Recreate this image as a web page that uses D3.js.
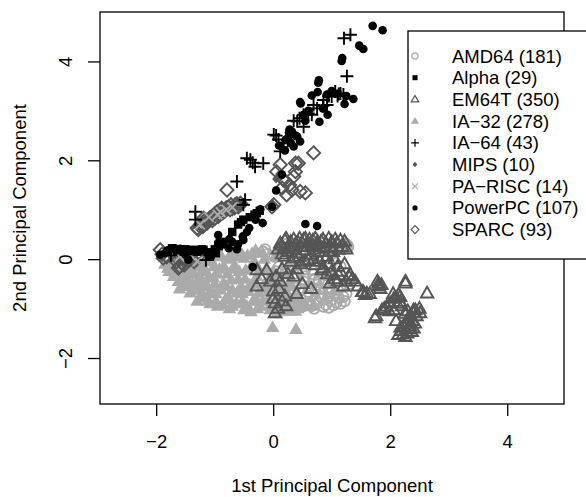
<!DOCTYPE html>
<html>
<head>
<meta charset="utf-8">
<script src="https://cdn.jsdelivr.net/npm/d3@7"></script>
<style>
  body { margin: 0; background: #fff; }
  svg { display: block; font-family: "Liberation Sans", Arial, Helvetica, sans-serif; }
</style>
</head>
<body>
<svg id="chart"></svg>
<script>
// PCA scores, [pc1, pc2] per machine
const amd64 = [
  [-0.17,0.15],[-0.14,0.20],[-0.05,-0.52],[0.02,0.05],[0.05,-0.25],[0.08,-0.70],[0.12,-0.76],[0.15,0.19],
  [0.18,-0.40],[0.22,-0.10],[0.25,-0.85],[0.29,-0.66],[0.32,0.09],[0.35,-0.30],[0.38,-0.55],[0.42,0.25],
  [0.46,-0.79],[0.49,-0.08],[0.52,-0.45],[0.55,-0.20],[0.58,-0.92],[0.60,-0.66],[0.63,-0.89],[0.66,-0.22],
  [0.68,0.15],[0.70,-0.40],[0.75,-0.52],[0.78,-0.05],[0.80,-0.75],[0.83,-0.30],[0.86,-0.96],[0.88,0.20],
  [0.92,-0.32],[0.95,-0.60],[0.97,-0.69],[1.00,0.10],[1.03,-0.93],[1.03,0.12],[1.06,-0.45],[1.09,0.30],
  [1.12,-0.78],[1.15,-0.15],[1.20,-0.76],[1.23,0.32],[1.26,0.29],[1.30,-0.50],[0.40,-1.00],[0.70,-1.00],
  [0.95,-0.98],[0.30,-0.95],[0.10,-0.95],[0.55,0.30],[0.20,0.30],[0.85,0.32],[0.62,0.05],[0.45,-0.62],
  [0.72,-0.82],[0.25,-0.20],[0.15,-0.55],[1.18,-0.55],
  [0.00,-0.35],[0.05,-0.60],[0.10,-0.15],[0.14,-0.85],[0.20,-0.62],[0.24,-0.45],[0.28,-0.80],[0.30,-0.20],
  [0.34,-0.70],[0.38,-0.88],[0.40,-0.38],[0.44,-0.12],[0.48,-0.60],[0.52,-0.95],[0.55,-0.35],[0.58,-0.75],
  [0.62,-0.55],[0.65,-0.95],[0.68,-0.30],[0.72,-0.65],[0.76,-0.88],[0.78,-0.42],[0.82,-0.60],[0.85,-0.80],
  [0.88,-0.50],[0.90,-0.92],[0.94,-0.78],[0.98,-0.85],[1.00,-0.60],[1.05,-0.72],[1.08,-0.88],[1.10,-0.62],
  [1.15,-0.90],[1.25,-0.70],[1.22,-0.85],[1.28,0.25],[1.20,0.20],[-0.10,0.10],[0.25,0.22],[0.45,0.15]
];
const alpha = [
  [-0.51,0.80],[-0.28,0.93],[-0.94,0.29],[-1.07,0.09],[-1.08,0.05],[-0.93,0.26],[-1.19,0.19],[-1.36,0.19],
  [-1.53,0.15],[-1.73,0.22],[-1.65,0.18],[-1.45,0.16],[-1.28,0.17],[-1.00,0.20],[-0.88,0.35],[-0.60,0.70],
  [-0.40,0.85],[-1.12,0.14],[-1.58,0.20],[-1.80,0.15],[-0.23,0.98],[-0.98,0.12],[-1.40,0.18],[-0.70,0.55],
  [-1.22,0.20],[-0.55,0.75],[-0.32,0.90],[-1.30,0.15],[-1.50,0.20]
];
const em64t = [
  [0.12,0.32],[0.20,0.38],[0.28,0.30],[0.35,0.40],[0.42,0.35],[0.52,0.40],[0.60,0.33],[0.68,0.38],
  [0.75,0.30],[0.82,0.36],[0.90,0.32],[1.00,0.35],[1.09,0.33],[1.18,0.25],[0.15,0.10],[0.25,0.15],
  [0.40,0.12],[0.55,0.18],[0.65,0.10],[0.78,0.15],[0.92,0.05],[1.05,0.00],[0.30,-0.05],[0.48,-0.10],
  [0.60,-0.02],[0.72,-0.12],[0.85,-0.18],[0.83,-0.22],[1.15,-0.25],[1.32,-0.32],[1.12,-0.32],[1.29,-0.35],
  [0.97,-0.49],[1.20,-0.55],[1.05,-0.40],[1.40,-0.45],[1.52,-0.66],[1.57,-0.72],[1.60,-0.69],[-0.28,-0.22],
  [-0.11,-0.22],[-0.28,-0.55],[0.12,-0.45],[0.35,-0.35],[0.03,-0.89],[0.03,-1.09],[0.00,-0.80],[0.10,-0.60],
  [0.20,-0.75],[-0.20,-0.40],[0.50,-0.50],[0.65,-0.60],[0.40,-0.70],
  [0.08,0.20],[0.14,0.28],[0.18,0.22],[0.22,0.42],[0.26,0.25],[0.30,0.35],[0.33,0.20],[0.38,0.30],
  [0.45,0.42],[0.48,0.25],[0.50,0.32],[0.55,0.42],[0.58,0.25],[0.62,0.40],[0.66,0.28],[0.70,0.20],
  [0.72,0.42],[0.76,0.35],[0.80,0.25],[0.85,0.40],[0.88,0.22],[0.95,0.42],[0.98,0.25],[1.02,0.15],
  [1.06,0.40],[1.12,0.20],[1.15,0.38],[1.22,0.36],[1.25,0.20],[0.20,0.05],[0.35,0.02],[0.45,0.05],
  [0.55,-0.05],[0.70,0.00],[0.80,-0.05],[0.95,-0.10],[1.00,-0.25],[1.10,-0.15],[1.22,-0.10],[1.25,-0.45],
  [1.35,-0.40],[1.45,-0.55],[1.10,-0.45],[0.92,-0.30],[0.40,-0.20],[0.25,-0.30],[0.15,-0.20],[-0.05,-0.45],
  [0.05,-0.35],[0.00,-0.65],[0.15,-0.85],[0.08,-1.00],[0.22,-0.95],
  [1.80,-0.49],[1.80,-0.55],[1.83,-0.60],[2.26,-0.45],[2.26,-0.49],[2.63,-0.69],[2.14,-0.72],[2.17,-0.76],
  [2.17,-0.86],[2.06,-0.80],[2.00,-0.89],[1.74,-1.19],[1.86,-1.03],[1.94,-0.96],[2.06,-1.03],[2.40,-1.03],
  [2.43,-1.03],[2.51,-1.09],[2.40,-1.09],[2.34,-1.30],[2.23,-1.36],[2.34,-1.36],[2.29,-1.50],[2.14,-1.53],
  [2.37,-1.47],[2.26,-1.57],[2.20,-1.45],[2.30,-1.20],[2.45,-1.15],[2.10,-1.25],[1.54,-0.66],[1.65,-0.70],
  [1.78,-0.45],[1.85,-0.52],[2.05,-0.70],[2.10,-0.78],[2.12,-0.90],[2.20,-0.95],[2.25,-1.10],[2.30,-1.05],
  [2.35,-1.15],[2.38,-1.25],[2.28,-1.32],[2.32,-1.42],[2.18,-1.38],[2.22,-1.52],[2.40,-1.40],[2.42,-1.30],
  [2.50,-1.00],[1.90,-1.00],[1.98,-1.05],[1.76,-1.15]
];
const ia32 = [
  [-1.85,-0.10],[-1.78,-0.25],[-1.75,-0.05],[-1.70,-0.35],[-1.65,-0.15],[-1.62,-0.45],[-1.58,-0.28],[-1.55,-0.05],
  [-1.50,-0.55],[-1.48,-0.38],[-1.45,-0.18],[-1.42,-0.68],[-1.38,-0.50],[-1.35,-0.30],[-1.30,-0.85],[-1.28,-0.62],
  [-1.25,-0.10],[-1.22,-0.42],[-1.18,-0.75],[-1.15,-0.25],[-1.12,-0.55],[-1.08,-0.90],[-1.05,-0.05],[-1.02,-0.38],
  [-0.98,-0.70],[-0.95,-0.95],[-0.92,-0.20],[-0.88,0.05],[-0.85,-0.48],[-0.82,-0.82],[-0.78,-0.30],[-0.75,-1.00],
  [-0.72,0.10],[-0.70,-0.62],[-0.66,-0.12],[-0.63,-0.88],[-0.60,-0.40],[-0.56,0.15],[-0.53,-0.70],[-0.50,-1.02],
  [-0.47,-0.22],[-0.44,0.08],[-0.40,-0.52],[-0.38,-1.06],[-0.35,-0.85],[-0.32,-0.05],[-0.28,-0.35],[-0.25,-0.68],
  [-0.22,-0.95],[-0.18,0.12],[-0.15,-0.50],[-0.12,-0.20],[-0.08,-0.80],[-0.05,-1.02],[-0.02,-0.38],[0.02,-0.62],
  [0.06,-1.10],[0.10,-0.88],[0.15,-0.30],[0.20,-1.05],[0.25,-0.72],[0.32,-0.95],[0.38,-1.05],[0.45,-0.80],
  [-0.01,-1.38],[0.39,-1.42],[-1.40,0.02],[-0.98,0.12],[-0.30,0.18],[0.05,0.05],[-1.60,-0.60],[-1.10,-0.70],
  [-0.55,-0.90],[0.55,-0.95],[0.30,-0.50],[0.70,-0.95],
  [-1.80,-0.18],[-1.72,-0.12],[-1.68,-0.28],[-1.60,-0.10],[-1.55,-0.40],[-1.52,-0.22],[-1.46,-0.48],[-1.42,-0.05],
  [-1.40,-0.30],[-1.35,-0.62],[-1.32,-0.15],[-1.30,-0.45],[-1.25,-0.78],[-1.22,-0.25],[-1.18,-0.55],[-1.15,-0.05],
  [-1.12,-0.85],[-1.10,-0.35],[-1.05,-0.65],[-1.02,-0.15],[-1.00,-0.50],[-0.98,-0.85],[-0.95,-0.30],[-0.92,0.08],
  [-0.90,-0.62],[-0.86,-0.92],[-0.84,-0.15],[-0.80,-0.55],[-0.78,0.00],[-0.76,-0.78],[-0.72,-0.42],[-0.70,-0.95],
  [-0.68,-0.20],[-0.65,0.05],[-0.62,-0.68],[-0.58,-0.25],[-0.55,-0.55],[-0.52,-0.85],[-0.50,0.02],[-0.48,-0.40],
  [-0.45,-0.95],[-0.42,-0.65],[-0.38,-0.15],[-0.36,0.12],[-0.33,-0.50],[-0.30,-0.80],[-0.27,-1.00],[-0.24,-0.22],
  [-0.20,-0.60],[-0.18,-0.85],[-0.15,0.00],[-0.10,-0.45],[-0.07,-0.65],[-0.04,-0.92],[0.00,-0.25],[0.04,-0.50],
  [0.08,-0.78],[0.12,-1.00],[0.18,-0.55],[0.22,-0.88],[0.28,-1.05],[0.35,-0.82],[0.42,-1.00],[0.48,-0.92]
];
const ia64 = [
  [1.21,4.47],[1.32,4.54],[1.26,3.70],[1.06,3.39],[1.12,3.34],[1.20,3.33],[1.00,3.29],[0.92,3.12],
  [0.69,3.12],[0.86,3.22],[0.52,2.92],[0.66,2.92],[0.35,2.80],[0.41,2.79],[0.52,2.68],[0.01,2.52],
  [0.09,2.42],[0.18,2.35],[0.12,2.18],[-0.45,2.04],[-0.39,2.01],[-0.31,1.87],[-0.17,1.94],[-0.62,1.57],
  [-0.48,1.20],[-0.51,1.10],[-1.33,0.96],[-1.33,0.80],[-1.75,0.08],[-1.15,-0.02],
  [0.45,2.85],[0.60,2.95],[0.75,3.05],[0.95,3.30],[1.15,3.35],[0.25,2.40],[0.05,2.50],[0.85,3.10],
  [-0.35,1.95],[1.10,3.30]
];
const mips = [
  [-1.55,0.08],[-1.42,0.12],[-1.15,0.78],[-1.02,0.88],[-0.85,0.98],[-0.68,1.05],[-0.30,0.92],[0.10,1.72],
  [0.05,1.62],[-0.02,1.12]
];
const parisc = [
  [-1.16,-0.15],[-1.20,-0.10],[-1.05,0.00],[-1.30,-0.05],[-0.95,0.05],[-1.45,0.12],[-1.10,0.85],[-0.95,0.90],
  [-0.80,1.00],[-0.90,0.95],[-1.25,0.70],[-0.70,1.05],[-1.60,0.05],[-0.60,0.10]
];
const powerpc = [
  [1.70,4.72],[1.87,4.63],[1.47,4.32],[1.54,4.25],[1.18,4.07],[1.17,4.01],[0.78,3.62],[0.77,3.57],
  [0.66,3.31],[0.76,3.38],[0.92,3.33],[1.22,3.14],[1.37,3.24],[0.46,3.18],[0.47,3.15],[0.93,2.92],
  [0.79,2.78],[0.52,2.92],[0.27,2.56],[0.35,2.28],[0.21,2.41],[0.41,2.48],[0.46,2.38],[0.32,2.58],
  [0.15,1.71],[0.05,1.39],[-0.02,1.06],[-0.22,1.01],[-0.18,0.73],[-0.41,0.63],[-0.52,0.46],[-0.75,0.40],
  [-0.76,0.22],[-0.62,0.20],[-0.94,0.49],[0.55,0.71],[0.75,0.67],[-0.35,-0.16],[-1.68,0.22],[-1.59,0.21],
  [-1.93,0.09],[-1.45,-0.01],[-0.51,0.39],[-0.92,0.36],
  [0.25,2.45],[0.30,2.35],[0.38,2.50],[0.28,2.62],[0.55,2.80],[0.60,3.00],[0.85,3.05],[1.00,3.40],
  [1.05,3.35],[1.25,3.30],[0.10,2.30],[0.20,2.20],[-1.80,0.18],[-1.75,0.20],[-1.62,0.20],[-1.55,0.15],
  [-1.85,0.12],[-1.50,0.10],[-0.85,0.30],[-0.70,0.35],[-0.60,0.30],[-0.45,0.55],[-0.30,0.80]
];
const sparc = [
  [-1.93,0.19],[-1.88,0.02],[-1.70,0.09],[-1.62,-0.18],[-1.56,-0.08],[-1.48,0.02],[-1.40,0.10],[-1.28,0.05],
  [-1.35,-0.05],[-1.30,0.63],[-1.25,0.66],[-1.22,0.72],[-1.19,0.83],[-1.13,0.73],[-1.10,0.80],[-1.05,0.86],
  [-1.00,0.82],[-0.96,0.96],[-0.92,0.90],[-0.88,1.03],[-0.82,0.98],[-0.76,1.06],[-0.70,1.02],[-0.65,1.10],
  [-0.60,1.06],[-0.56,1.13],[-0.79,1.40],[0.01,1.10],[-0.02,1.06],[0.12,1.91],[0.06,1.77],[0.43,1.94],
  [0.38,1.94],[0.38,1.77],[0.21,1.57],[0.15,1.44],[0.23,1.30],[0.46,1.37],[0.32,1.40],[0.35,1.67],
  [0.55,1.34],[0.69,2.15],[0.18,1.60],[0.28,1.50],
  [-1.28,0.60],[-1.24,0.70],[-1.20,0.66],[-1.16,0.80],[-1.12,0.76],[-1.08,0.84],[-1.04,0.78],[-1.00,0.92],
  [-0.94,0.86],[-0.90,1.00],[-0.86,0.94],[-0.80,1.04],[-0.74,1.00],[-0.72,1.10],[-0.66,1.04],[-0.62,1.12],
  [-0.58,1.08],[-1.90,0.10],[-1.82,0.05],[-1.75,0.15],[-1.65,-0.05],[-1.58,0.05],[-1.52,-0.12],[-1.45,-0.02],
  [-1.38,0.00],[-1.32,0.08],[-1.60,-0.15]
];

const xTicks = [-2, 0, 2, 4];
const yTicks = [-2, 0, 2, 4];
const legendLabels = ["AMD64 (181)", "Alpha (29)", "EM64T (350)", "IA\u221232 (278)", "IA\u221264 (43)",
  "MIPS (10)", "PA\u2212RISC (14)", "PowerPC (107)", "SPARC (93)"];

const width = 586, height = 497;
const plotLeft = 100, plotRight = 564, plotTop = 12, plotBottom = 404;
const light = "#aaaaaa", dark = "#555555";

const x = d3.scaleLinear().domain([-2.96, 4.97]).range([plotLeft, plotRight]);
const y = d3.scaleLinear().domain([-2.93, 5.0]).range([plotBottom, plotTop]);

// marker shapes, roughly R's pch 1, 15, 2, 17, 3, 18, 4, 16, 5
const shapes = {
  circle:  {path: s => d3.arc()({innerRadius: 0, outerRadius: 5.2 * s, startAngle: 0, endAngle: 2 * Math.PI}), fill: "none", stroke: light},
  square:  {path: s => `M${-4.2 * s},${-4.2 * s}h${8.4 * s}v${8.4 * s}h${-8.4 * s}Z`, fill: "#000", stroke: "none"},
  triOpen: {path: s => `M0,${-6.6 * s}L${6.2 * s},${4.2 * s}L${-6.2 * s},${4.2 * s}Z`, fill: "none", stroke: dark},
  triFill: {path: s => `M0,${-7 * s}L${6.8 * s},${4.6 * s}L${-6.8 * s},${4.6 * s}Z`, fill: light, stroke: "none"},
  plus:    {path: s => `M${-6.5 * s},0H${6.5 * s}M0,${-6.5 * s}V${6.5 * s}`, fill: "none", stroke: "#000"},
  diaFill: {path: s => `M0,${-4.5 * s}L${4 * s},0L0,${4.5 * s}L${-4 * s},0Z`, fill: dark, stroke: "none"},
  cross:   {path: s => `M${-4.8 * s},${-4.8 * s}L${4.8 * s},${4.8 * s}M${-4.8 * s},${4.8 * s}L${4.8 * s},${-4.8 * s}`, fill: "none", stroke: light},
  dot:     {path: s => d3.arc()({innerRadius: 0, outerRadius: 4.3 * s, startAngle: 0, endAngle: 2 * Math.PI}), fill: "#000", stroke: "none"},
  diaOpen: {path: s => `M0,${-6.6 * s}L${6.6 * s},0L0,${6.6 * s}L${-6.6 * s},0Z`, fill: "none", stroke: dark}
};

const series = [
  {data: amd64, shape: "circle"},
  {data: alpha, shape: "square"},
  {data: em64t, shape: "triOpen"},
  {data: ia32, shape: "triFill"},
  {data: ia64, shape: "plus"},
  {data: mips, shape: "diaFill"},
  {data: parisc, shape: "cross"},
  {data: powerpc, shape: "dot"},
  {data: sparc, shape: "diaOpen"}
];
series.forEach((d, i) => d.label = legendLabels[i]);

// drawing order roughly as the overlaps look in the picture
const drawOrder = ["triFill", "circle", "triOpen", "diaOpen", "diaFill", "cross", "square", "dot", "plus"];

const svg = d3.select("#chart")
    .attr("width", width)
    .attr("height", height)
    .attr("viewBox", [0, 0, width, height]);

const pts = svg.append("g");
drawOrder.forEach(key => {
  const s = series.find(d => d.shape === key);
  const sh = shapes[key];
  pts.append("g")
      .attr("fill", sh.fill)
      .attr("stroke", sh.stroke)
      .attr("stroke-width", 1.9)
    .selectAll("path")
    .data(s.data)
    .join("path")
      .attr("transform", d => `translate(${x(d[0])},${y(d[1])})`)
      .attr("d", sh.path(1));
});

// box
svg.append("rect")
    .attr("x", plotLeft).attr("y", plotTop)
    .attr("width", plotRight - plotLeft).attr("height", plotBottom - plotTop)
    .attr("fill", "none").attr("stroke", "#000").attr("stroke-width", 1.3);

const xAxis = d3.axisBottom(x).tickValues(xTicks).tickSize(12).tickPadding(19).tickSizeOuter(0);
svg.append("g")
    .attr("transform", `translate(0,${plotBottom})`)
    .call(xAxis)
    .call(g => g.select(".domain").remove())
    .call(g => g.selectAll(".tick line").attr("stroke-width", 1.3))
    .call(g => g.selectAll(".tick text")
        .attr("font-size", 18.5).attr("font-family", null).attr("fill", "#000"));

const yAxis = d3.axisLeft(y).tickValues(yTicks).tickSize(12).tickSizeOuter(0);
svg.append("g")
    .attr("transform", `translate(${plotLeft},0)`)
    .call(yAxis)
    .call(g => g.select(".domain").remove())
    .call(g => g.selectAll(".tick line").attr("stroke-width", 1.3))
    .call(g => g.selectAll(".tick text")
        .attr("font-size", 18.5).attr("font-family", null).attr("fill", "#000")
        .attr("x", 0).attr("y", -35).attr("dy", null)
        .attr("dominant-baseline", "central")
        .attr("text-anchor", "middle")
        .attr("transform", "rotate(-90)"));

svg.append("text")
    .attr("x", (plotLeft + plotRight) / 2).attr("y", 492)
    .attr("text-anchor", "middle")
    .attr("font-size", 18.5)
    .text("1st Principal Component");

svg.append("text")
    .attr("transform", `translate(19,${(plotTop + plotBottom) / 2}) rotate(-90)`)
    .attr("text-anchor", "middle").attr("dominant-baseline", "central")
    .attr("font-size", 18.5)
    .text("2nd Principal Component");

// legend
const legend = svg.append("g");
legend.append("rect")
    .attr("x", 408).attr("y", 31)
    .attr("width", 200).attr("height", 228)
    .attr("fill", "#fff").attr("stroke", "#000").attr("stroke-width", 1.3);

const rows = legend.selectAll("g.row")
  .data(series)
  .join("g")
    .attr("class", "row")
    .attr("transform", (d, i) => `translate(415,${56 + i * 21.7})`);
rows.append("path")
    .attr("d", d => shapes[d.shape].path(0.6))
    .attr("fill", d => shapes[d.shape].fill)
    .attr("stroke", d => shapes[d.shape].stroke)
    .attr("stroke-width", 1.2);
rows.append("text")
    .attr("x", 37)
    .attr("dominant-baseline", "central")
    .attr("font-size", 18.5)
    .text(d => d.label);
</script>
</body>
</html>
